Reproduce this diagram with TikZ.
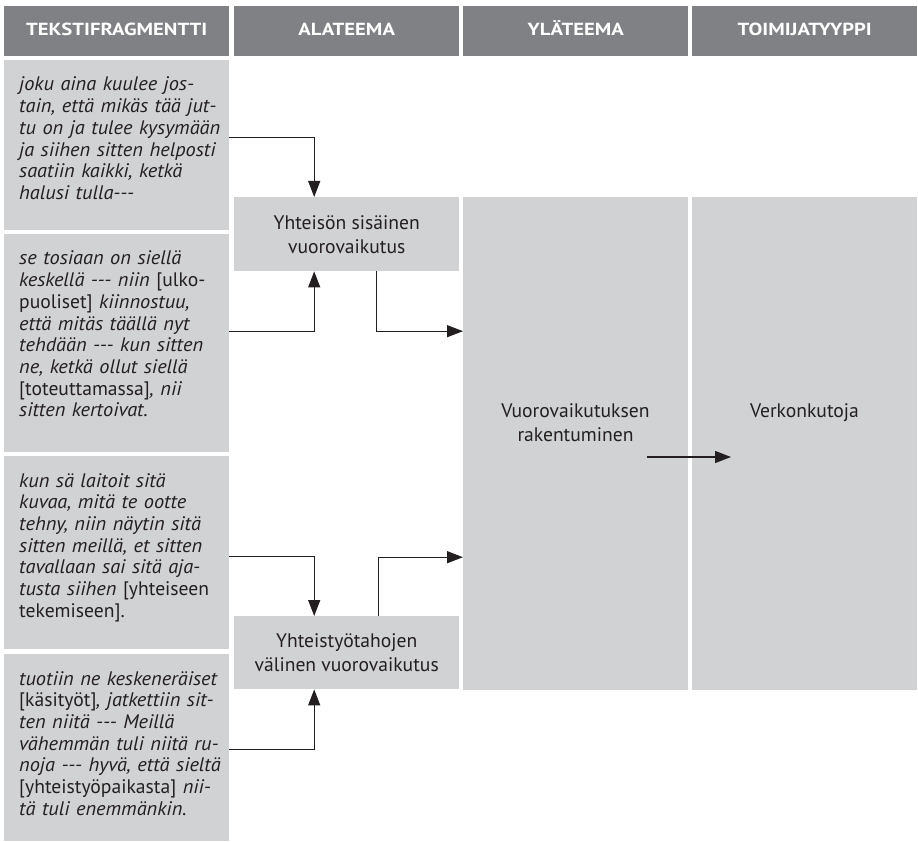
\documentclass[tikz,border=0pt]{standalone}
\usepackage{fontspec}
\setmainfont{PT Sans}[Ligatures=TeXOff, ItalicFeatures={FakeStretch=1.04}]
\newfontfamily\headfont{PT Sans}[Ligatures=TeXOff, FakeStretch=1.18]
\usetikzlibrary{arrows.meta}
\definecolor{boxgray}{HTML}{D1D2D4}
\definecolor{headgray}{HTML}{808184}
\definecolor{ink}{HTML}{231F20}
\newcommand\qfont{\fontsize{19.6}{21.7}\selectfont}
\newcommand\lfont{\fontsize{19.6}{24}\selectfont}
\tikzset{
  cell/.style={fill=boxgray, draw=none, inner sep=0pt, anchor=north west, minimum width=225pt},
  head/.style={fill=headgray, text=white, font=\headfont\bfseries\fontsize{17.5}{21}\selectfont, inner sep=0pt,
    anchor=north west, minimum width=225pt, minimum height=50pt, text height=12pt, text depth=3pt},
  quote/.style={anchor=base west, align=left, text width=212pt, inner sep=0pt, font=\qfont\itshape, text=ink},
  label/.style={align=center, inner sep=0pt, font=\lfont, text=ink},
  conn/.style={draw=ink, line width=1.2pt, -{Triangle[length=16pt,width=12pt]}},
}
\begin{document}
\begin{tikzpicture}[x=1pt, y=-1pt]
\useasboundingbox (0,0) rectangle (918,842);
% header
\node[head] (h1) at (4,6) {TEKSTIFRAGMENTTI};
\node[head] (h2) at (234,6) {ALATEEMA};
\node[head] (h3) at (463,6) {YLÄTEEMA};
\node[head] (h4) at (692,6) {TOIMIJATYYPPI};
% quote boxes
\node[cell, minimum height=170pt] (b1) at (4,60) {};
\node[cell, minimum height=218pt] (b2) at (4,234) {};
\node[cell, minimum height=193pt] (b3) at (4,456) {};
\node[cell, minimum height=187pt] (b4) at (4,654) {};
\node[quote] (q1) at (19,91) {joku aina kuulee jos-\\
tain, että mikäs tää jut-\\
tu on ja tulee kysymään\\
ja siihen sitten helposti\\
saatiin kaikki, ketkä\\
halusi tulla---};
\node[quote] (q2) at (19,265) {se tosiaan on siellä\\
keskellä --- niin \textup{[ulko-}\\
\textup{puoliset]} kiinnostuu,\\
että mitäs täällä nyt\\
tehdään --- kun sitten\\
ne, ketkä ollut siellä\\
\textup{[toteuttamassa]}, nii\\
sitten kertoivat.};
\node[quote] (q3) at (19,487) {kun sä laitoit sitä\\
kuvaa, mitä te ootte\\
tehny, niin näytin sitä\\
sitten meillä, et sitten\\
tavallaan sai sitä aja-\\
tusta siihen \textup{[yhteiseen}\\
\textup{tekemiseen].}};
\node[quote] (q4) at (19,685) {tuotiin ne keskeneräiset\\
\textup{[käsityöt]}, jatkettiin sit-\\
ten niitä --- Meillä\\
vähemmän tuli niitä ru-\\
noja --- hyvä, että sieltä\\
\textup{[yhteistyöpaikasta]} nii-\\
tä tuli enemmänkin.};
% sub-theme boxes
\node[cell, minimum height=74pt] (y1) at (234,197) {};
\node[label] (l1) at (y1.center) {Yhteisön sisäinen\\vuorovaikutus};
\node[cell, minimum height=73pt] (y2) at (234,616) {};
\node[label] (l2) at (y2.center) {Yhteistyötahojen\\välinen vuorovaikutus};
% main theme and actor type
\node[cell, minimum height=493pt] (c3) at (463,197) {};
\node[cell, minimum height=493pt] (c4) at (692,197) {};
\node[label, anchor=base] (l3) at (575.5,441) {Vuorovaikutuksen\\rakentuminen};
\node[label, anchor=base] (l4) at (804.5,417) {Verkonkutoja};
\coordinate (a7s) at (647,457);
\coordinate (a7e) at (731,457);
% connectors
\draw[conn] ([yshift=8pt]b1.east) -| ([xshift=-32.5pt]y1.north);
\draw[conn] ([yshift=12pt]b2.east) -| ([xshift=-32.5pt]y1.south);
\draw[conn] ([xshift=29.5pt]y1.south) |- ([yshift=112.5pt]c3.west);
\draw[conn] ([yshift=-3.5pt]b3.east) -| ([xshift=-32.5pt]y2.north);
\draw[conn] ([xshift=31.5pt]y2.north) |- ([yshift=-113.5pt]c3.west);
\draw[conn] ([yshift=-1.5pt]b4.east) -| ([xshift=-32.5pt]y2.south);
\draw[conn] (a7s) -- (a7e);
\end{tikzpicture}
\end{document}
